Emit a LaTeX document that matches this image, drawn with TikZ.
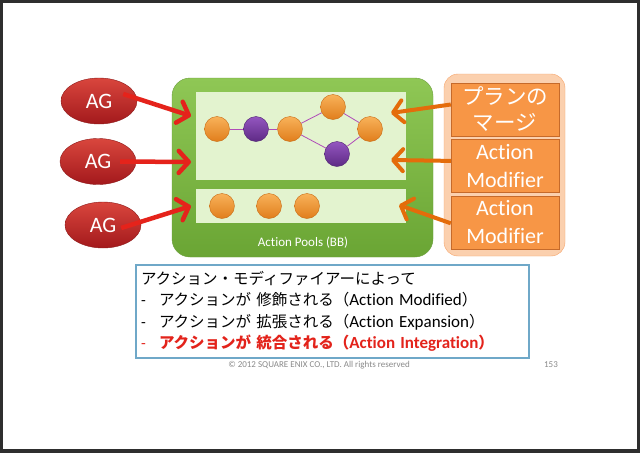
\documentclass[tikz,border=0pt]{standalone}
\usepackage{fontspec}
\setmainfont{Carlito}[Ligatures=NoCommon]
\newfontfamily\jp{Noto Sans CJK JP}
\usetikzlibrary{positioning,arrows.meta,shapes.geometric}
\definecolor{framegray}{HTML}{2E2E2E}
\definecolor{agtop}{HTML}{D9463D}
\definecolor{agbottom}{HTML}{A3191C}
\definecolor{agdark}{HTML}{8E1A1A}
\definecolor{arrowred}{HTML}{E5231B}
\definecolor{pooltop}{HTML}{8FC755}
\definecolor{poolbottom}{HTML}{6AA534}
\definecolor{pooledge}{HTML}{6B9E3C}
\definecolor{panelgreen}{HTML}{E3F3CF}
\definecolor{orangetop}{HTML}{F9B25A}
\definecolor{orangebottom}{HTML}{E07E1C}
\definecolor{balledge}{HTML}{C86A12}
\definecolor{purpletop}{HTML}{9456C0}
\definecolor{purplebottom}{HTML}{5E2A85}
\definecolor{purpleedge}{HTML}{4E2270}
\definecolor{linkpurple}{HTML}{B04CB8}
\definecolor{framepeach}{HTML}{FBD0AE}
\definecolor{peachedge}{HTML}{F6A46B}
\definecolor{boxorange}{HTML}{F79646}
\definecolor{boxedge}{HTML}{C66A2A}
\definecolor{arroworange}{HTML}{E46C0A}
\definecolor{noteblue}{HTML}{6FA8C8}
\definecolor{notered}{HTML}{E3231B}
\definecolor{footgray}{HTML}{8A8A8A}
\newcommand{\latin}[1]{{\fontsize{17}{21.5}\selectfont #1}}
\tikzset{
    ag-node/.style = {ellipse, draw=agdark, top color=agtop, bottom color=agbottom, text=white, font=\fontsize{22}{22}\selectfont, minimum width=76pt, minimum height=46pt, inner sep=0pt},
    ag-arrow/.style = {draw=arrowred, line width=4.5pt, -{Straight Barb[length=10pt, width=22pt, round]}},
    pool-box/.style = {draw=pooledge, top color=pooltop, bottom color=poolbottom, rounded corners=18pt, minimum width=261pt, minimum height=179pt, inner sep=0pt},
    pool-panel/.style = {fill=panelgreen, minimum width=210pt, inner sep=0pt},
    orange-ball/.style = {circle, draw=balledge, top color=orangetop, bottom color=orangebottom, minimum size=25pt, inner sep=0pt},
    purple-ball/.style = {circle, draw=purpleedge, top color=purpletop, bottom color=purplebottom, minimum size=25pt, inner sep=0pt},
    ball-link/.style = {draw=linkpurple, line width=0.8pt},
    modifier-frame/.style = {draw=peachedge, fill=framepeach, rounded corners=14pt, minimum width=121pt, minimum height=182pt, inner sep=0pt},
    modifier-box/.style = {draw=boxedge, fill=boxorange, text=white, minimum width=108pt, minimum height=53pt, inner sep=0pt, align=center},
    modifier-arrow/.style = {draw=arroworange, line width=4pt, -{Straight Barb[length=10pt, width=22pt, round]}},
    note-box/.style = {draw=noteblue, line width=1.2pt, fill=white, text width=383pt, inner xsep=5pt, inner ysep=0pt, minimum height=93pt, align=left, font=\fontsize{15.5}{21.5}\selectfont},
    foot-text/.style = {text=footgray, font=\fontsize{9}{9}\selectfont},
}

\begin{document}
\begin{tikzpicture}[x=1pt, y=-1pt]
\useasboundingbox (0,0) rectangle (640,453);
\fill[framegray] (0,0) rectangle (640,453);
\fill[white] (3,3) rectangle (637,449);

\node[pool-box] (pool) at (302.5,167.5) {};
\node[pool-panel, minimum height=88pt] (upper) at (301,136) {};
\node[pool-panel, minimum height=34pt, below=9pt of upper] (lower) {};
\node[text=white, font=\fontsize{13}{13}\selectfont] (poolname) at (303,243) {Action Pools (BB)};

\node[orange-ball] (o1) at (217,129) {};
\node[purple-ball] (p1) at (256,129) {};
\node[orange-ball] (o2) at (290,129) {};
\node[orange-ball] (o3) at (333,107) {};
\node[orange-ball] (o4) at (370,129) {};
\node[purple-ball] (p2) at (337,154) {};
\draw[ball-link] (o1) -- (p1);
\draw[ball-link] (p1) -- (o2);
\draw[ball-link] (o2) -- (o3);
\draw[ball-link] (o3) -- (o4);
\draw[ball-link] (o2) -- (p2);
\draw[ball-link] (p2) -- (o4);

\node[orange-ball] (q1) at (222,206) {};
\node[orange-ball] (q2) at (269,206) {};
\node[orange-ball] (q3) at (307,206) {};

\node[ag-node] (ag1) at (99,101) {AG};
\node[ag-node] (ag2) at (98,161.5) {AG};
\node[ag-node] (ag3) at (103,225) {AG};

\coordinate (in1) at (191,116);
\coordinate (in2) at (191,162);
\coordinate (in3) at (191,206);
\draw[ag-arrow] ([shift={(-14pt,7pt)}]ag1.east) -- (in1);
\draw[ag-arrow] ([xshift=-16pt]ag2.east) -- (in2);
\draw[ag-arrow] ([shift={(-20pt,-3pt)}]ag3.east) -- (in3);

\node[modifier-frame] (frame) at (504.5,165) {};
\node[modifier-box, font=\jp\fontsize{21.5}{26}\selectfont] (plan) at (505,109.5) {プランの\\マージ};
\node[modifier-box, font=\fontsize{22}{28}\selectfont, below=3pt of plan] (mod1) {Action\\Modifier};
\node[modifier-box, font=\fontsize{22}{28}\selectfont, below=3pt of mod1] (mod2) {Action\\Modifier};

\coordinate (out1) at (391,113);
\coordinate (out2) at (391,160);
\coordinate (out3) at (399,205);
\draw[modifier-arrow] ([yshift=5pt]plan.west) -- (out1);
\draw[modifier-arrow] ([yshift=5pt]mod1.west) -- (out2);
\draw[modifier-arrow] ([yshift=-1pt]mod2.west) -- (out3);

\node[note-box] (note) at (332.5,311.5) {{\jp アクション・モディファイアーによって}\\
\makebox[18pt][l]{-}{\jp アクションが 修飾される（}\latin{Action Modified}{\jp ）}\\
\makebox[18pt][l]{-}{\jp アクションが 拡張される（}\latin{Action Expansion}{\jp ）}\\
\color{notered}\makebox[18pt][l]{-}{\bfseries{\jp アクションが 統合される（}\latin{Action Integration}{\jp ）}}};

\node[foot-text] (copyright) at (319,365) {\textcopyright{} 2012 SQUARE ENIX CO., LTD. All rights reserved};
\node[foot-text] (page) at (551,365) {153};
\end{tikzpicture}
\end{document}
